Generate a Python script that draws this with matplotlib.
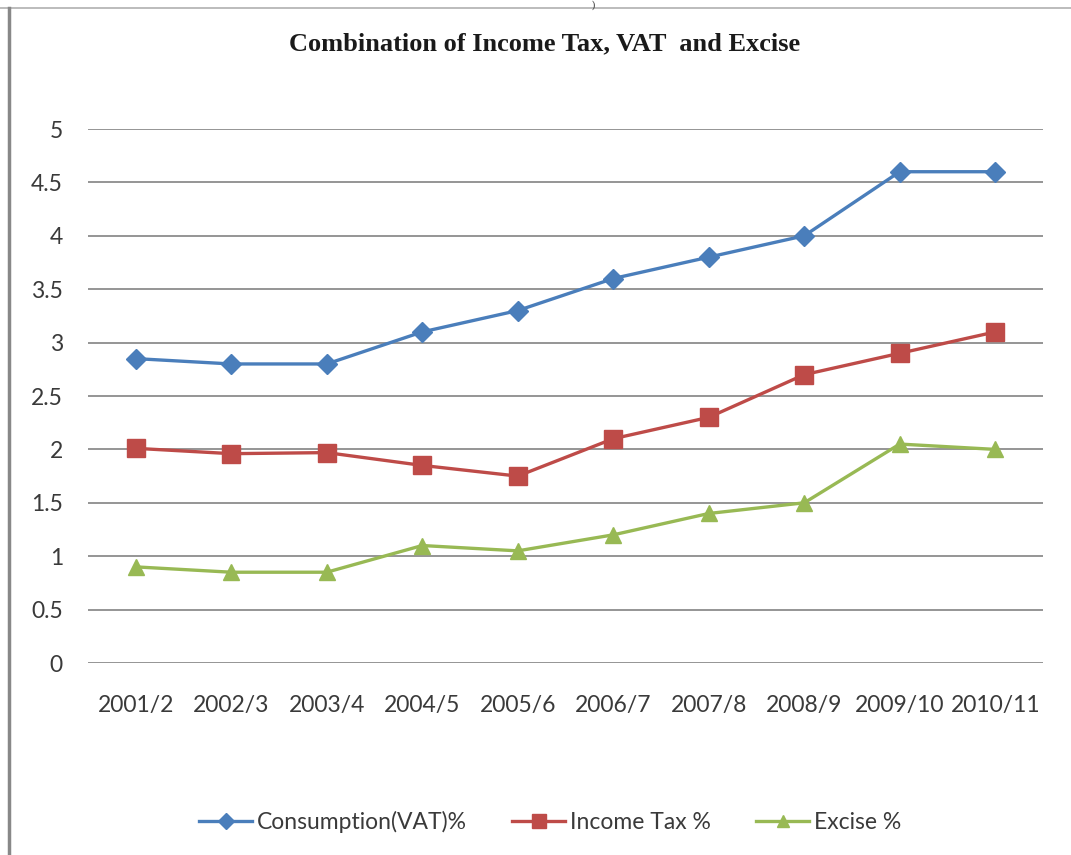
import numpy as np
import matplotlib
matplotlib.use("Agg")
import matplotlib.pyplot as plt
from matplotlib.lines import Line2D

years = ["2001/2", "2002/3", "2003/4", "2004/5", "2005/6",
         "2006/7", "2007/8", "2008/9", "2009/10", "2010/11"]
vat = [2.85, 2.8, 2.8, 3.1, 3.3, 3.6, 3.8, 4.0, 4.6, 4.6]
income_tax = [2.01, 1.96, 1.97, 1.85, 1.75, 2.1, 2.3, 2.7, 2.9, 3.1]
excise = [0.9, 0.85, 0.85, 1.1, 1.05, 1.2, 1.4, 1.5, 2.05, 2.0]

blue = "#4A7EBB"
red = "#BE4B48"
green = "#98B954"
txt = "#3a3a3a"

plt.rcParams["font.family"] = ["Lato", "DejaVu Sans"]

fig = plt.figure(figsize=(10.71, 8.55), dpi=100)
W, H = 1071, 855
ax = fig.add_axes([88 / W, 1 - 663 / H, (1043 - 88) / W, (663 - 129) / H])

x = np.arange(len(years))
ax.plot(x, vat, color=blue, lw=2.4, marker="D", ms=10, clip_on=False,
        label="Consumption(VAT)%", zorder=3)
ax.plot(x, income_tax, color=red, lw=2.4, marker="s", ms=13, clip_on=False,
        label="Income Tax %", zorder=3)
ax.plot(x, excise, color=green, lw=2.4, marker="^", ms=12, clip_on=False,
        label="Excise %", zorder=3)

ax.set_xlim(-0.5, len(years) - 0.5)
ax.set_ylim(0, 5)
ax.set_yticks(np.arange(0, 5.01, 0.5))
ax.set_yticklabels(["0", "0.5", "1", "1.5", "2", "2.5", "3", "3.5", "4", "4.5", "5"])
ax.set_xticks(x)
ax.set_xticklabels(years)
ax.grid(axis="y", color="#8c8c8c", lw=1.3)
ax.set_axisbelow(True)
for s in ax.spines.values():
    s.set_visible(False)
ax.tick_params(length=0, labelsize=16.5, labelcolor=txt)
ax.tick_params(axis="y", pad=18)
ax.tick_params(axis="x", pad=23)

fig.text(545 / W, 1 - 44 / H, "Combination of Income Tax, VAT  and Excise",
         ha="center", va="center", fontsize=19, fontweight="bold",
         family="Liberation Serif", color="#1a1a1a")

# stray bracket above the frame
fig.text(593 / W, 1 - 0.5 / H, ")", ha="center", va="top", fontsize=7,
         family="Liberation Serif", color="#222222")

# frame lines
fig.add_artist(Line2D([0, 1], [1 - 8 / H, 1 - 8 / H], color="#b0b0b0", lw=1.2))
fig.add_artist(Line2D([9 / W, 9 / W], [0, 1 - 8 / H], color="#888888", lw=2.5))

handles = [
    Line2D([], [], color=blue, lw=2.4, marker="D", ms=8),
    Line2D([], [], color=red, lw=2.4, marker="s", ms=10),
    Line2D([], [], color=green, lw=2.4, marker="^", ms=9),
]
fig.legend(handles, ["Consumption(VAT)%", "Income Tax %", "Excise %"],
           loc="center", bbox_to_anchor=(550 / W, 1 - 822 / H), ncol=3,
           frameon=False, fontsize=16.5, labelcolor=txt, handlelength=2.3,
           handletextpad=0.2, columnspacing=2.0)

fig.savefig("out.png", dpi=100, facecolor="white")
